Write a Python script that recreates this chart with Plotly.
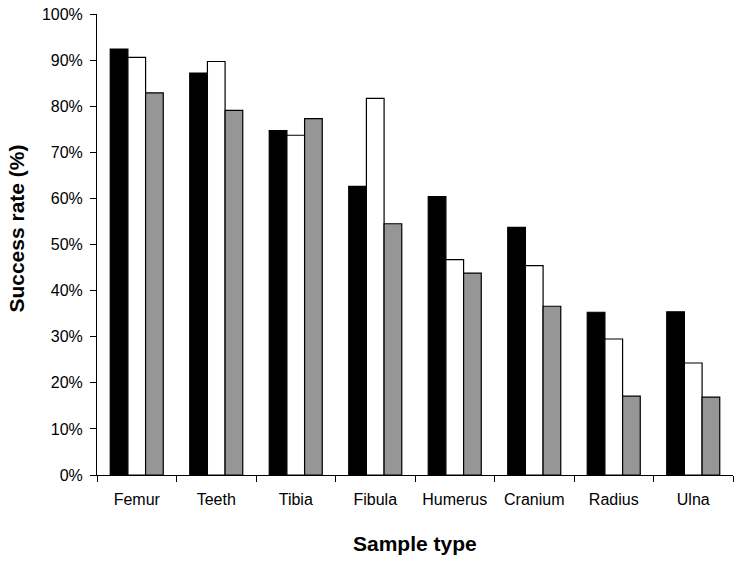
import plotly.graph_objects as go

categories = ["Femur", "Teeth", "Tibia", "Fibula", "Humerus", "Cranium", "Radius", "Ulna"]
series_black = [0.924, 0.872, 0.747, 0.626, 0.604, 0.537, 0.353, 0.354]
series_white = [0.906, 0.897, 0.737, 0.817, 0.467, 0.454, 0.295, 0.243]
series_gray = [0.829, 0.791, 0.773, 0.545, 0.438, 0.366, 0.171, 0.169]
y_ticks = [i / 10 for i in range(11)]

FONT = "Arial, Liberation Sans, sans-serif"

fig = go.Figure()
for name, vals, color in [("A", series_black, "#000000"),
                          ("B", series_white, "#ffffff"),
                          ("C", series_gray, "#969696")]:
    fig.add_trace(go.Bar(x=categories, y=vals, name=name,
                         marker=dict(color=color, line=dict(color="#000000", width=1.2))))

fig.update_layout(
    width=742, height=562,
    margin=dict(l=97, r=9, t=14, b=87),
    plot_bgcolor="white", paper_bgcolor="white",
    barmode="group", bargap=0.333, bargroupgap=0,
    showlegend=False,
    font=dict(family=FONT, size=16, color="#000000"),
    xaxis=dict(showline=True, linecolor="#000000", linewidth=1,
               ticks="outside", ticklen=6, tickcolor="#000000",
               tickson="boundaries", ticklabelstandoff=10, automargin=False,
               tickfont=dict(family=FONT, size=16, color="#000000"),
               showgrid=False, zeroline=False),
    yaxis=dict(range=[0, 1], tickvals=y_ticks, tickformat=".0%",
               showline=True, linecolor="#000000", linewidth=1,
               ticks="outside", ticklen=6, tickcolor="#000000",
               ticklabelstandoff=4, automargin=False,
               tickfont=dict(family=FONT, size=16, color="#000000"),
               showgrid=False, zeroline=False),
    annotations=[
        dict(text="<b>Sample type</b>", xref="paper", yref="paper",
             x=0.5, y=-0.148, xanchor="center", yanchor="middle",
             showarrow=False, font=dict(family=FONT, size=21, color="#000000")),
        dict(text="<b>Success rate (%)</b>", xref="paper", yref="paper",
             x=-0.127, y=0.535, xanchor="center", yanchor="middle",
             textangle=-90, showarrow=False,
             font=dict(family=FONT, size=21, color="#000000")),
    ],
)

fig.write_html("out.html", config={"displayModeBar": False},
               post_script="document.body.style.margin='0';")
